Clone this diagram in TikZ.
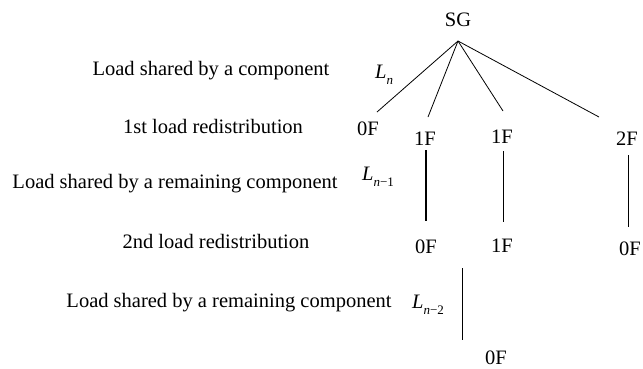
\documentclass[tikz,border=0pt]{standalone}
\usepackage{fontspec}
\setmainfont{Liberation Serif}
\begin{document}
\begin{tikzpicture}[x=1pt,y=-1pt,
  txt/.style={inner sep=0pt,anchor=base,font=\fontsize{20.5}{24}\selectfont},
  lbl/.style={inner sep=0pt,anchor=base west,font=\fontsize{20.5}{24}\selectfont},
  edge/.style={line width=0.8pt},
  thickedge/.style={line width=2pt}]
\useasboundingbox (0,0) rectangle (643,368);
\newcommand{\subL}[1]{\textit{L}\raisebox{-6pt}{\fontsize{13}{13}\selectfont #1}}
% left descriptions
\node[txt] (d1) at (211,75) {Load shared by a component};
\node[txt] (d2) at (213,133) {1st load redistribution};
\node[txt] (d3) at (175,188) {Load shared by a remaining component};
\node[txt] (d4) at (216,248) {2nd load redistribution};
\node[txt] (d5) at (229,307) {Load shared by a remaining component};
% load labels
\node[lbl] (ln) at (375,78) {\subL{\textit{n}}};
\node[lbl] (ln1) at (362,180) {\subL{\textit{n}−1}};
\node[lbl] (ln2) at (412,308) {\subL{\textit{n}−2}};
% tree
\node[txt] (sg) at (458,26) {SG};
\coordinate (apex) at (458,41);
\node[txt] (a0) at (368,135) {0F};
\node[txt] (a1) at (425,145) {1F};
\node[txt] (a2) at (502,143) {1F};
\node[txt] (a3) at (627,145) {2F};
\coordinate (e0) at (377,112);
\coordinate (e1) at (428,117);
\coordinate (e2) at (503,111);
\coordinate (e3) at (599,117);
\draw[edge] (apex) -- (e0);
\draw[edge] (apex) -- (e1);
\draw[edge] (apex) -- (e2);
\draw[edge] (apex) -- (e3);
% second level
\node[txt] (b1) at (426,253) {0F};
\node[txt] (b2) at (502,252) {1F};
\node[txt] (b3) at (630,255) {0F};
\coordinate (v1t) at (426,150);
\coordinate (v1b) at (426,221);
\coordinate (v2t) at (503,151);
\coordinate (v2b) at (503,222);
\coordinate (v3t) at (628,155);
\coordinate (v3b) at (628,227);
\draw[thickedge] (v1t) -- (v1b);
\draw[edge] (v2t) -- (v2b);
\draw[edge] (v3t) -- (v3b);
% third level
\node[txt] (c1) at (496,364) {0F};
\coordinate (w1t) at (462,268);
\coordinate (w1b) at (462,340);
\draw[edge] (w1t) -- (w1b);
\end{tikzpicture}
\end{document}
